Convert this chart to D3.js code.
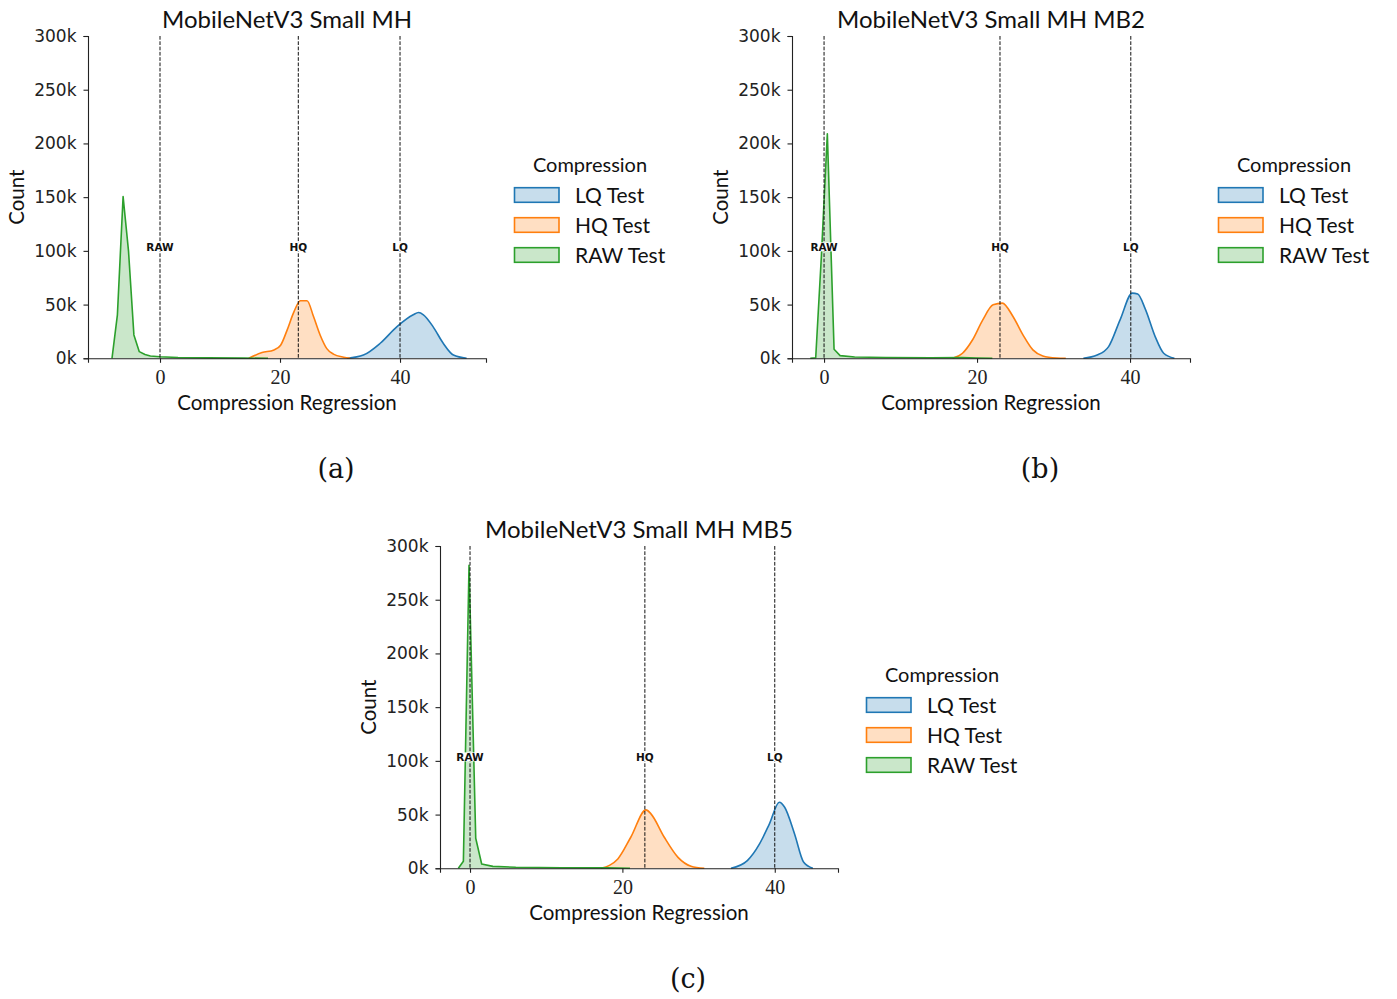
<html>
<head>
    <title>Compression regression histograms</title>
    <script src="https://d3js.org/d3.v7.min.js"></script>
</head>
<body style="margin:0; background:#fff">
<div id="chart"></div>
<script>
// counts are in thousands, x in compression-regression units
const seriesNames = ["LQ Test", "HQ Test", "RAW Test"];
const colors = ["#1f77b4", "#ff7f0e", "#2ca02c"];
const titles = ["MobileNetV3 Small MH", "MobileNetV3 Small MH MB2", "MobileNetV3 Small MH MB5"];
const captions = ["(a)", "(b)", "(c)"];
const markLabels = ["RAW", "HQ", "LQ"];
const yTicks = [0, 50, 100, 150, 200, 250, 300];
const xTicks = [0, 20, 40];

// panel (a)
const aLqX  = [31.2, 33.9, 36.7, 39.5, 42.2, 43.1, 43.9, 45.5, 47.2, 48.9, 51.1];
const aLqY  = [0, 3, 14, 29.5, 40.5, 42.6, 40.5, 29.5, 14, 3, 0];
const aHqX  = [14.8, 17.0, 19.0, 20.1, 21.2, 22.3, 23.4, 24.5, 25.6, 26.7, 27.8, 28.9, 30.6, 31.7];
const aHqY  = [0, 5.3, 7.8, 12.2, 26.5, 43, 53.6, 53.6, 38.6, 21.5, 9, 3.9, 1, 0];
const aRawX = [-8.0, -7.1, -6.15, -5.25, -4.35, -3.45, -2.5, -1.6, 0, 3, 8, 14, 18];
const aRawY = [0, 40.5, 150.5, 100, 21.8, 6.2, 3.5, 2.2, 1.5, 0.8, 0.4, 0.2, 0];
const aMarks = [0, 23.05, 40];

// panel (b)
const bLqX  = [33.9, 35.7, 37.2, 38.7, 40.3, 41.0, 42.0, 43.3, 44.4, 45.8];
const bLqY  = [0, 3, 10.9, 35.8, 60.7, 59.8, 45.8, 20, 4.7, 0];
const bHqX  = [16.8, 18.1, 19.4, 20.75, 22.1, 23.3, 24.7, 26.0, 27.3, 28.6, 30.4, 31.6];
const bHqY  = [0, 4.7, 17, 35.8, 49.8, 51.4, 38.9, 21.8, 7.8, 2.2, 0.3, 0];
const bRawX = [-1.8, -1.09, -0.35, 0.43, 1.31, 2.1, 4, 8, 14, 18, 20, 22];
const bRawY = [0, 0.5, 95, 209, 8.4, 2.5, 1.2, 0.7, 0.5, 0.6, 0.3, 0];
const bMarks = [0, 23.0, 40.1];

// panel (c)
const cLqX  = [34.25, 36.4, 38.0, 39.3, 40.6, 41.3, 42.6, 43.8, 45.0];
const cLqY  = [0, 7.2, 22.7, 41.4, 61.5, 56.8, 32, 5.6, 0];
const cHqX  = [17.2, 19.4, 21.1, 23.1, 23.75, 25.5, 27.3, 29.0, 30.75];
const cHqY  = [0, 8.7, 28.9, 54.4, 50.7, 28.9, 10.2, 2, 0];
const cRawX = [-1.53, -0.87, -0.13, 0.75, 1.53, 3, 6, 12, 18, 21];
const cRawY = [0, 6.5, 282, 28, 4, 1.8, 1, 0.5, 0.4, 0];
const cMarks = [0, 22.95, 40];

const panels = [
    {left: 88,  top: 36,  xDomain: [-12.0, 54.33], series: [[aLqX, aLqY], [aHqX, aHqY], [aRawX, aRawY]], marks: aMarks, cap: [336, 478]},
    {left: 792, top: 36,  xDomain: [-4.19, 47.84], series: [[bLqX, bLqY], [bHqX, bHqY], [bRawX, bRawY]], marks: bMarks, cap: [1040, 478]},
    {left: 440, top: 546, xDomain: [-3.94, 48.3],  series: [[cLqX, cLqY], [cHqX, cHqY], [cRawX, cRawY]], marks: cMarks, cap: [688, 988]}
];

const W = 398, H = 322.3;
const sans = "Lato, 'Open Sans', sans-serif";

const svg = d3.select("#chart").append("svg")
    .attr("width", 1397)
    .attr("height", 999)
    .style("background", "#fff");

panels.forEach(function(p, pi) {
    const g = svg.append("g").attr("transform", "translate(" + p.left + "," + p.top + ")");

    const x = d3.scaleLinear().domain(p.xDomain).range([0, W]);
    const y = d3.scaleLinear().domain([0, 300]).range([H, 0]);

    // filled histograms (drawn LQ, HQ, RAW)
    p.series.forEach(function(s, si) {
        const pts = s[0].map(function(v, i) { return [v, s[1][i]]; });
        const curve = si == 2 ? d3.curveLinear : d3.curveMonotoneX;
        const area = d3.area().curve(curve)
            .x(function(d) { return x(d[0]); })
            .y0(y(0))
            .y1(function(d) { return y(d[1]); });
        const line = d3.line().curve(curve)
            .x(function(d) { return x(d[0]); })
            .y(function(d) { return y(d[1]); });
        g.append("path").datum(pts)
            .attr("d", area)
            .attr("fill", colors[si])
            .attr("fill-opacity", 0.25);
        g.append("path").datum(pts)
            .attr("d", line)
            .attr("fill", "none")
            .attr("stroke", colors[si])
            .attr("stroke-width", 1.6)
            .attr("stroke-linejoin", "round");
    });

    // dashed reference lines
    p.marks.forEach(function(m, mi) {
        g.append("line")
            .attr("x1", x(m)).attr("x2", x(m))
            .attr("y1", 0).attr("y2", H)
            .attr("stroke", "#111")
            .attr("stroke-width", 1)
            .attr("stroke-dasharray", "3.7,1.6");
        const t = g.append("text")
            .attr("x", x(m))
            .attr("y", y(100))
            .attr("text-anchor", "middle")
            .style("font-family", "'DejaVu Sans', sans-serif")
            .style("font-weight", "bold")
            .style("font-size", "10.5px")
            .attr("fill", "#111")
            .text(markLabels[mi]);
        const bb = t.node().getBBox();
        g.insert("rect", function() { return t.node(); })
            .attr("x", bb.x - 1).attr("y", bb.y + 1.5)
            .attr("width", bb.width + 2).attr("height", bb.height - 3)
            .attr("fill", "#fff");
    });

    // axes
    const yAxis = g.append("g")
        .call(d3.axisLeft(y).tickValues(yTicks).tickSize(4.5).tickPadding(7).tickFormat(function(d) { return d + "k"; }));
    yAxis.select(".domain").attr("stroke", "#222").attr("stroke-width", 1.1);
    yAxis.selectAll(".tick line").attr("stroke", "#222").attr("stroke-width", 1.1);
    yAxis.selectAll(".tick text")
        .style("font-family", "'DejaVu Sans', sans-serif")
        .style("font-size", "17px")
        .attr("fill", "#222");

    const xAxis = g.append("g")
        .attr("transform", "translate(0," + H + ")")
        .call(d3.axisBottom(x).tickValues(xTicks).tickSize(4.5).tickPadding(7).tickFormat(d3.format("d")));
    xAxis.select(".domain").attr("stroke", "#222").attr("stroke-width", 1.1);
    xAxis.selectAll(".tick line").attr("stroke", "#222").attr("stroke-width", 1.1);
    xAxis.selectAll(".tick text")
        .style("font-family", "'Liberation Serif', serif")
        .style("font-size", "20px")
        .attr("fill", "#222");

    // labels
    g.append("text")
        .attr("x", W / 2).attr("y", -8.5)
        .attr("text-anchor", "middle")
        .style("font-family", sans).style("font-size", "24px")
        .attr("fill", "#111")
        .text(titles[pi]);
    g.append("text")
        .attr("x", W / 2).attr("y", H + 52)
        .attr("text-anchor", "middle")
        .style("font-family", sans).style("font-size", "20.5px")
        .attr("fill", "#111")
        .text("Compression Regression");
    g.append("text")
        .attr("transform", "translate(-64," + (H / 2) + ") rotate(-90)")
        .attr("text-anchor", "middle")
        .style("font-family", sans).style("font-size", "20.5px")
        .attr("fill", "#111")
        .text("Count");

    // legend
    const lg = g.append("g").attr("transform", "translate(426,0)");
    lg.append("text")
        .attr("x", 76).attr("y", 135.5)
        .attr("text-anchor", "middle")
        .style("font-family", sans).style("font-size", "20px")
        .attr("fill", "#111")
        .text("Compression");
    seriesNames.forEach(function(n, i) {
        lg.append("rect")
            .attr("x", 0.5).attr("y", 151.7 + i * 30)
            .attr("width", 44.5).attr("height", 14.6)
            .attr("fill", d3.interpolateRgb(colors[i], "#fff")(0.75))
            .attr("stroke", colors[i])
            .attr("stroke-width", 1.6);
        lg.append("text")
            .attr("x", 61).attr("y", 167.3 + i * 30)
            .style("font-family", sans).style("font-size", "21px")
            .attr("fill", "#111")
            .text(n);
    });

    // caption
    svg.append("text")
        .attr("x", p.cap[0]).attr("y", p.cap[1])
        .attr("text-anchor", "middle")
        .style("font-family", "'DejaVu Serif', serif")
        .style("font-size", "27px")
        .attr("fill", "#111")
        .text(captions[pi]);
});
</script>
</body>
</html>
